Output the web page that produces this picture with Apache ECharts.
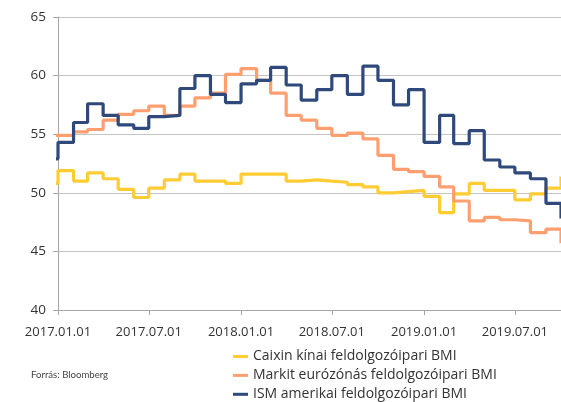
<!DOCTYPE html>
<html>
<head>
<meta charset="utf-8">
<script src="https://cdn.jsdelivr.net/npm/echarts@6/dist/echarts.min.js"></script>
<style>
html,body{margin:0;padding:0;background:#fff;}
#c{width:561px;height:402px;}
</style>
</head>
<body>
<div id="c"></div>
<script>
var months = ['2016-12-01',
  '2017-01-01','2017-02-01','2017-03-01','2017-04-01','2017-05-01','2017-06-01',
  '2017-07-01','2017-08-01','2017-09-01','2017-10-01','2017-11-01','2017-12-01',
  '2018-01-01','2018-02-01','2018-03-01','2018-04-01','2018-05-01','2018-06-01',
  '2018-07-01','2018-08-01','2018-09-01','2018-10-01','2018-11-01','2018-12-01',
  '2019-01-01','2019-02-01','2019-03-01','2019-04-01','2019-05-01','2019-06-01',
  '2019-07-01','2019-08-01','2019-09-01','2019-10-01'];
var caixin = [50.8,
  51.9,51.0,51.7,51.2,50.3,49.6,50.4,51.1,51.6,51.0,51.0,50.8,
  51.6,51.6,51.6,51.0,51.1,51.0,50.9,50.7,50.5,50.0,50.1,50.2,
  49.7,48.3,49.9,50.8,50.2,50.2,49.4,49.9,50.4,51.4];
var markit = [54.9,
  54.9,55.2,55.4,56.2,56.7,57.0,57.4,56.6,57.4,58.1,58.5,60.1,
  60.6,59.6,58.5,56.6,56.2,55.5,54.9,55.1,54.6,53.2,52.0,51.8,
  51.4,50.5,49.3,47.6,47.9,47.7,47.6,46.6,46.9,45.7];
var ism = [52.9,
  54.3,56.0,57.6,56.6,55.8,55.5,56.5,56.6,58.9,60.0,58.4,57.7,
  59.3,59.6,60.7,59.2,57.9,58.8,60.0,58.4,60.8,59.6,57.5,58.8,
  54.3,56.6,54.2,55.3,52.8,52.2,51.7,51.2,49.1,47.8];
var seriesNames = ['Caixin kínai feldolgozóipari BMI','Markit eurózónás feldolgozóipari BMI','ISM amerikai feldolgozóipari BMI'];
var xTickDates = ['2017-01-01','2017-07-01','2018-01-01','2018-07-01','2019-01-01','2019-07-01'];
var yTicks = [40,45,50,55,60,65];
var sourceText = 'Forrás: Bloomberg';

function ts(s){ var p=s.split('-'); return Date.UTC(+p[0], +p[1]-1, +p[2]); }
function pairs(vals){ return months.map(function(m,i){ return [ts(m), vals[i]]; }); }
var colors = ['#FFCC33','#FF9F70','#2F4A7A'];
var FONT = 'Open Sans';
var xTickTs = xTickDates.map(ts);

var chart = echarts.init(document.getElementById('c'), null, {renderer:'canvas'});
chart.setOption({
  animation:false,
  backgroundColor:'#fff',
  grid:{left:58, right:0, top:17, bottom:92, containLabel:false},
  xAxis:{
    type:'value',
    min: ts('2017-01-01'), max: ts('2019-10-01'),
    axisLine:{show:true, lineStyle:{color:'#a6a6a6', width:1}},
    axisTick:{show:true, length:5, lineStyle:{color:'#a6a6a6'}, customValues: xTickTs},
    axisLabel:{
      customValues: xTickTs,
      color:'#333', fontSize:13, fontFamily:FONT, margin:16,
      showMinLabel:true, showMaxLabel:true,
      formatter:function(v){ var d=new Date(v); var mm=d.getUTCMonth()+1, dd=d.getUTCDate();
        return d.getUTCFullYear()+'.'+(mm<10?'0':'')+mm+'.'+(dd<10?'0':'')+dd; }
    },
    splitLine:{show:false}
  },
  yAxis:{
    type:'value', min:yTicks[0], max:yTicks[yTicks.length-1], interval:5,
    axisLine:{show:true, lineStyle:{color:'#a6a6a6'}},
    axisTick:{show:true, length:5, lineStyle:{color:'#a6a6a6'}},
    axisLabel:{color:'#333', fontSize:13.5, fontFamily:FONT, margin:12},
    splitLine:{show:true, lineStyle:{color:'#c4c4c4', width:1}}
  },
  legend:{
    orient:'vertical', left:228, top:344, height:62, width:330,
    itemWidth:15, itemHeight:3, itemGap:3.9,
    icon:'rect',
    textStyle:{color:'#333', fontSize:14, fontFamily:FONT, lineHeight:15},
    data: seriesNames
  },
  graphic:[{type:'text', left:31, top:370, style:{text:sourceText, fill:'#444', font:'9.6px Lato'}}],
  series:[caixin, markit, ism].map(function(v,i){
    return {name:seriesNames[i], type:'line', step:'end', showSymbol:false, symbol:'none',
      data:pairs(v), clip:true, color:colors[i],
      lineStyle:{width:3.2, color:colors[i]}};
  })
});
</script>
</body>
</html>
